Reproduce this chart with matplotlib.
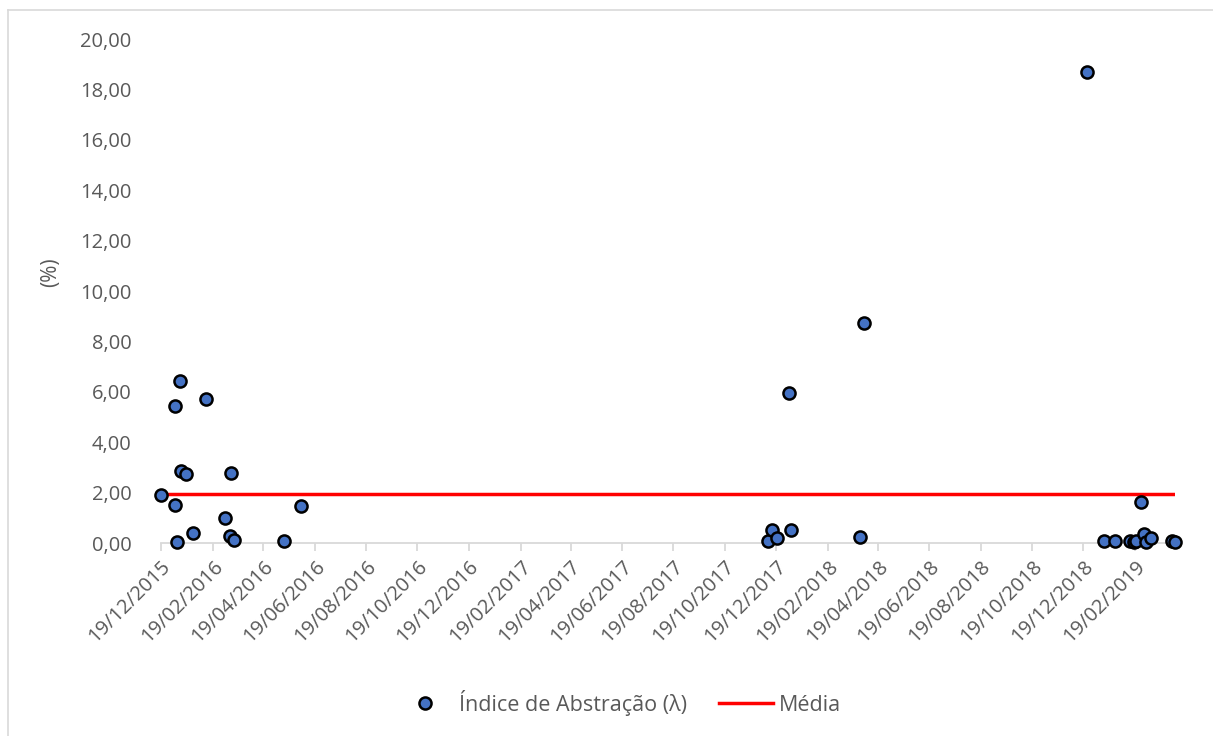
import matplotlib
matplotlib.use("Agg")
import matplotlib.pyplot as plt
import matplotlib.dates as mdates
from matplotlib.ticker import FuncFormatter, MultipleLocator
from matplotlib.lines import Line2D
import numpy as np

# Observation dates and abstraction index values (%)
datas = [
    "2015-12-19", "2016-01-05", "2016-01-05", "2016-01-07", "2016-01-11",
    "2016-01-12", "2016-01-18", "2016-01-26", "2016-02-11", "2016-03-04",
    "2016-03-10", "2016-03-11", "2016-03-15", "2016-05-13", "2016-06-03",
    "2017-12-09", "2017-12-14", "2017-12-20", "2018-01-03", "2018-01-06",
    "2018-03-29", "2018-04-03",
    "2018-12-24", "2019-01-13", "2019-01-26", "2019-02-12", "2019-02-17",
    "2019-02-20", "2019-02-26", "2019-03-01", "2019-03-03", "2019-03-09",
    "2019-04-04", "2019-04-07",
]
indice = [
    1.90, 5.45, 1.51, 0.05, 6.43,
    2.86, 2.74, 0.38, 5.70, 0.98,
    0.29, 2.78, 0.12, 0.07, 1.47,
    0.08, 0.52, 0.18, 5.96, 0.52,
    0.23, 8.73,
    18.70, 0.08, 0.08, 0.06, 0.02,
    0.08, 1.64, 0.35, 0.03, 0.18,
    0.07, 0.05,
]
media = 1.94

serie_nome = "Índice de Abstração (λ)"
media_nome = "Média"
y_titulo = "(%)"

plt.rcParams["font.family"] = ["Open Sans", "DejaVu Sans"]
cinza = "#595959"

x = np.array(datas, dtype="datetime64[D]")
y = np.array(indice)

fig = plt.figure(figsize=(12.13, 7.36), dpi=100)
W, H = 1213, 736
x_left, x_right = 160.7, 1175.0
y_top, y_bot = 39.0, 543.0
ax = fig.add_axes([x_left / W, 1 - y_bot / H, (x_right - x_left) / W, (y_bot - y_top) / H])

# Mean line, then the observations on top
ax.plot([x[0], x[-1]], [media, media], color="#FF0000", lw=2.5, zorder=2,
        solid_capstyle="butt", label=media_nome)
ax.scatter(x, y, s=76, facecolor="#4472C4", edgecolor="black", linewidths=1.8,
           zorder=3, clip_on=False, label=serie_nome)

ax.set_xlim(x[0], x[-1])
ax.set_ylim(0, 20)

# Y axis
ax.yaxis.set_major_locator(MultipleLocator(2))
ax.yaxis.set_major_formatter(FuncFormatter(lambda v, p: f"{v:.2f}".replace(".", ",")))
ax.tick_params(axis="y", length=0, pad=21, labelsize=14.5, labelcolor=cinza)
ax.set_ylabel(y_titulo, fontsize=15, color=cinza, va="center", ha="center")
ax.yaxis.set_label_coords(-0.109, 0.538)

# X axis: a tick every two months on day 19
ax.xaxis.set_major_locator(mdates.MonthLocator(bymonth=[2, 4, 6, 8, 10, 12], bymonthday=19))
ax.xaxis.set_major_formatter(mdates.DateFormatter("%d/%m/%Y"))
ax.tick_params(axis="x", length=6, width=1.3, color="#D9D9D9", labelsize=14.5,
               labelcolor=cinza, pad=4)
for lab in ax.get_xticklabels():
    lab.set_rotation(45)
    lab.set_ha("right")
    lab.set_va("top")
    lab.set_rotation_mode("anchor")

for s in ["top", "right", "left"]:
    ax.spines[s].set_visible(False)
ax.spines["bottom"].set_color("#D9D9D9")
ax.spines["bottom"].set_linewidth(1.3)
ax.grid(False)

# Legend below the plot
handles = [
    Line2D([], [], marker="o", linestyle="none", markersize=8.7, markerfacecolor="#4472C4",
           markeredgecolor="black", markeredgewidth=1.8),
    Line2D([], [], color="#FF0000", lw=2.5),
]
fig.legend(handles, [serie_nome, media_nome], loc="center", bbox_to_anchor=(0.511, 1 - 703 / H),
           ncol=2, frameon=False, fontsize=15.5, labelcolor=cinza, handlelength=2.5,
           handletextpad=0.3, columnspacing=1.5)

# Chart frame
fig.add_artist(Line2D([8 / W, 8 / W], [0, 1 - 10 / H], color="#D9D9D9", lw=1.2))
fig.add_artist(Line2D([8 / W, 1], [1 - 10 / H, 1 - 10 / H], color="#D9D9D9", lw=1.2))

fig.savefig("out.png", dpi=100, facecolor="white")
